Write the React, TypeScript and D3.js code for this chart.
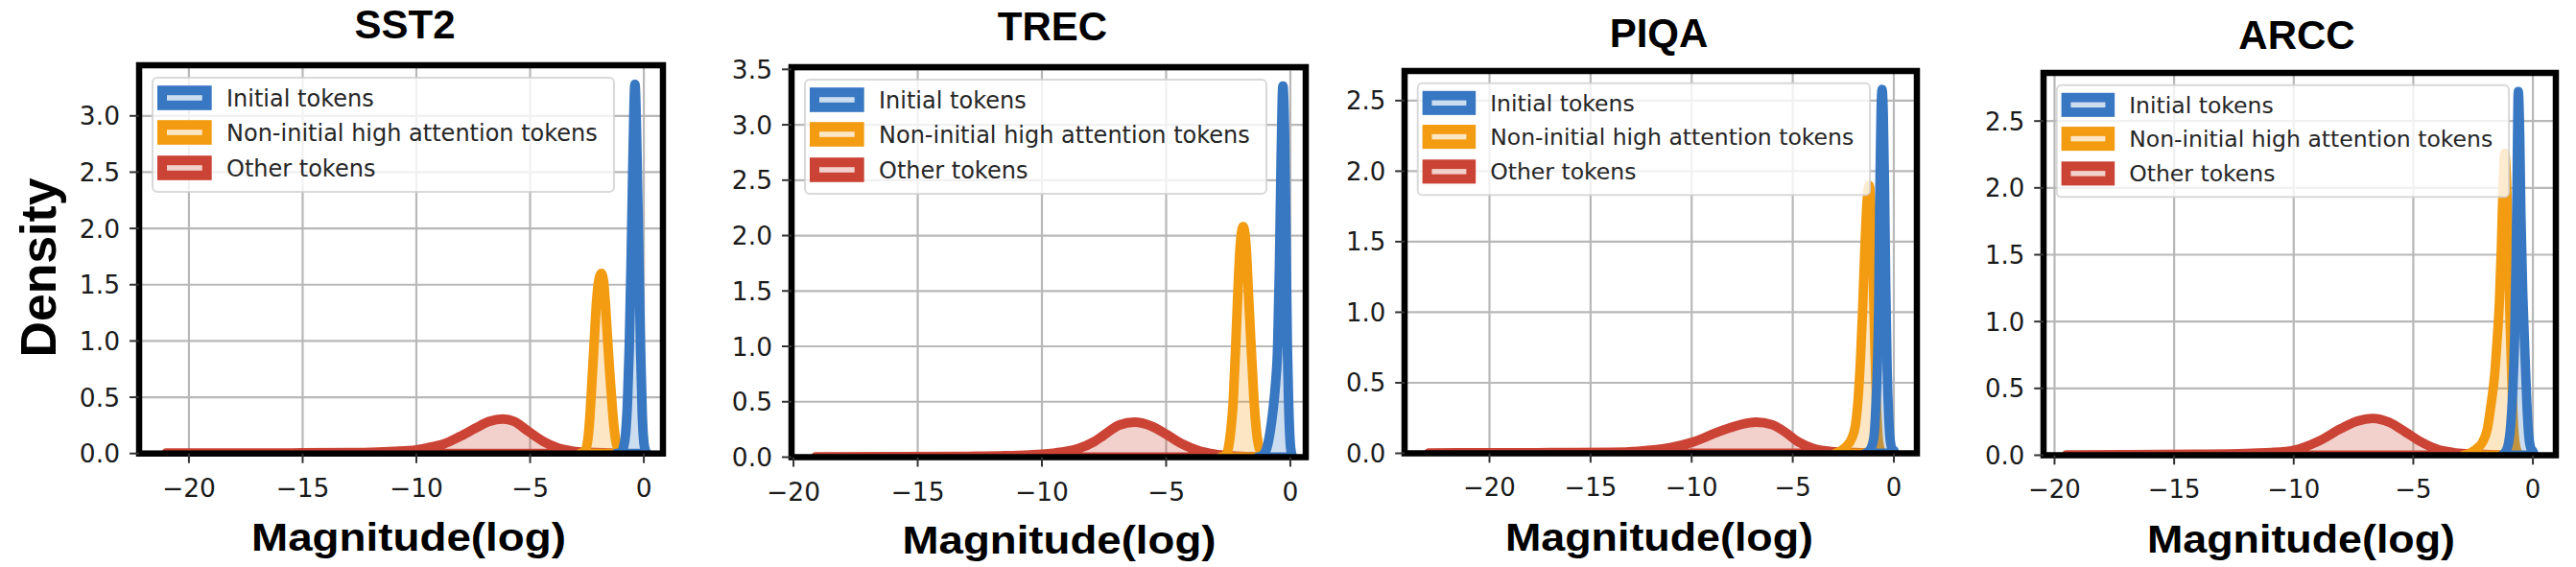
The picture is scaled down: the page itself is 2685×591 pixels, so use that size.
import React from 'react';
import * as d3 from 'd3';

type Pt = [number, number];

// ---------- data ----------
const panelTitles = ['SST2', 'TREC', 'PIQA', 'ARCC'];
const seriesNames = ['Initial tokens', 'Non-initial high attention tokens', 'Other tokens'];
const seriesColors = ['#3877c2', '#f39c12', '#cb4335'];
const xTickValues = [-20, -15, -10, -5, 0];
const yTicksSST2 = [0, 0.5, 1, 1.5, 2, 2.5, 3];
const yTicksTREC = [0, 0.5, 1, 1.5, 2, 2.5, 3, 3.5];
const yTicksPIQA = [0, 0.5, 1, 1.5, 2, 2.5];
const yTicksARCC = [0, 0.5, 1, 1.5, 2, 2.5];

const sst2Initial: Pt[] = [[-1.2, 0], [-1.0, 0.01], [-0.9, 0.05], [-0.8, 0.18], [-0.72, 0.45], [-0.64, 0.95], [-0.56, 1.7], [-0.48, 2.6], [-0.39, 3.28], [-0.3, 2.65], [-0.22, 1.75], [-0.14, 0.9], [-0.07, 0.35], [0.0, 0.1], [0.08, 0.02], [0.15, 0]];
const sst2NonInitial: Pt[] = [[-2.8, 0], [-2.6, 0.02], [-2.48, 0.1], [-2.4, 0.25], [-2.32, 0.5], [-2.25, 0.75], [-2.18, 1.0], [-2.08, 1.35], [-1.97, 1.55], [-1.87, 1.6], [-1.77, 1.53], [-1.68, 1.3], [-1.59, 1.0], [-1.5, 0.72], [-1.42, 0.5], [-1.32, 0.25], [-1.2, 0.08], [-1.05, 0.02], [-0.9, 0]];
const sst2Other: Pt[] = [[-21.0, 0.003], [-18, 0.004], [-15, 0.005], [-13, 0.008], [-12, 0.011], [-11, 0.018], [-10, 0.032], [-9.4, 0.055], [-8.8, 0.085], [-8.1, 0.15], [-7.4, 0.225], [-6.8, 0.285], [-6.2, 0.307], [-5.7, 0.285], [-5.1, 0.2], [-4.4, 0.105], [-3.8, 0.05], [-3.1, 0.02], [-2.4, 0.01], [-1.8, 0.005], [-1.2, 0.002], [-0.8, 0]];

const trecInitial: Pt[] = [[-1.3, 0], [-1.1, 0.02], [-0.95, 0.08], [-0.82, 0.22], [-0.7, 0.42], [-0.6, 0.65], [-0.51, 1.0], [-0.44, 1.7], [-0.37, 2.7], [-0.3, 3.35], [-0.23, 2.9], [-0.16, 1.7], [-0.12, 1.0], [-0.07, 0.5], [-0.02, 0.18], [0.05, 0.03], [0.12, 0]];
const trecNonInitial: Pt[] = [[-2.8, 0], [-2.6, 0.02], [-2.48, 0.1], [-2.38, 0.28], [-2.3, 0.5], [-2.25, 0.75], [-2.2, 1.0], [-2.12, 1.45], [-2.02, 1.9], [-1.9, 2.08], [-1.78, 1.9], [-1.68, 1.45], [-1.58, 1.0], [-1.52, 0.75], [-1.46, 0.5], [-1.37, 0.25], [-1.25, 0.08], [-1.1, 0.02], [-0.95, 0]];
const trecOther: Pt[] = [[-19.1, 0.003], [-16, 0.004], [-13, 0.007], [-11.5, 0.012], [-10.5, 0.02], [-10, 0.026], [-9.2, 0.045], [-8.56, 0.075], [-7.9, 0.14], [-7.53, 0.195], [-6.88, 0.29], [-6.27, 0.316], [-5.6, 0.281], [-4.95, 0.2], [-4.31, 0.114], [-3.67, 0.055], [-3.0, 0.025], [-2.3, 0.01], [-1.6, 0.004], [-1.0, 0]];

const piqaInitial: Pt[] = [[-1.4, 0], [-1.15, 0.03], [-1.0, 0.1], [-0.9, 0.3], [-0.82, 0.6], [-0.75, 1.05], [-0.69, 1.9], [-0.63, 2.45], [-0.58, 2.58], [-0.52, 2.4], [-0.46, 1.9], [-0.4, 1.2], [-0.33, 0.6], [-0.25, 0.25], [-0.17, 0.08], [-0.08, 0.03], [0.0, 0.02], [0.05, 0]];
const piqaNonInitial: Pt[] = [[-2.9, 0], [-2.6, 0.02], [-2.35, 0.05], [-2.1, 0.1], [-1.9, 0.2], [-1.75, 0.42], [-1.64, 0.7], [-1.55, 1.0], [-1.45, 1.4], [-1.33, 1.78], [-1.22, 1.9], [-1.12, 1.72], [-1.02, 1.25], [-0.94, 0.75], [-0.86, 0.35], [-0.78, 0.12], [-0.68, 0.03], [-0.55, 0]];
const piqaOther: Pt[] = [[-23.0, 0.003], [-20, 0.004], [-17, 0.005], [-14, 0.008], [-12.66, 0.015], [-11.08, 0.04], [-9.94, 0.08], [-8.71, 0.15], [-7.61, 0.203], [-6.82, 0.221], [-6.03, 0.203], [-5.4, 0.153], [-4.77, 0.085], [-3.98, 0.035], [-3.19, 0.015], [-2.4, 0.008], [-1.7, 0.004], [-1.0, 0]];

const arccInitial: Pt[] = [[-1.3, 0], [-1.1, 0.04], [-0.95, 0.18], [-0.85, 0.45], [-0.76, 0.9], [-0.7, 1.5], [-0.66, 2.1], [-0.61, 2.72], [-0.55, 2.4], [-0.5, 1.8], [-0.42, 1.2], [-0.33, 0.75], [-0.25, 0.38], [-0.17, 0.14], [-0.08, 0.05], [0.0, 0.03], [0.06, 0]];
const arccNonInitial: Pt[] = [[-2.9, 0], [-2.6, 0.02], [-2.35, 0.05], [-2.1, 0.1], [-1.9, 0.2], [-1.75, 0.38], [-1.6, 0.6], [-1.5, 0.85], [-1.4, 1.15], [-1.32, 1.55], [-1.25, 2.0], [-1.18, 2.26], [-1.1, 2.05], [-1.03, 1.6], [-0.96, 1.05], [-0.88, 0.55], [-0.8, 0.2], [-0.7, 0.05], [-0.55, 0]];
const arccOther: Pt[] = [[-19.5, 0.003], [-17, 0.004], [-14, 0.008], [-12, 0.014], [-11, 0.02], [-10, 0.038], [-8.96, 0.105], [-8.02, 0.2], [-7.35, 0.255], [-6.69, 0.276], [-6.02, 0.247], [-5.35, 0.176], [-4.68, 0.1], [-4.01, 0.045], [-3.21, 0.018], [-2.5, 0.009], [-1.8, 0.004], [-1.2, 0]];

const panelSeries: Pt[][][] = [
  [sst2Initial, sst2NonInitial, sst2Other],
  [trecInitial, trecNonInitial, trecOther],
  [piqaInitial, piqaNonInitial, piqaOther],
  [arccInitial, arccNonInitial, arccOther],
];
const panelYTicks = [yTicksSST2, yTicksTREC, yTicksPIQA, yTicksARCC];
const panelXDomains: Pt[] = [[-22.19, 0.84], [-20.08, 0.62], [-24.2, 1.14], [-20.46, 0.96]];
const panelYMax = [3.45, 3.52, 2.71, 2.86];

// ---------- layout ----------
const layout = [
  { left: 145, right: 691, top: 68, bottom: 472.7, s: 1, titleX: 422, titleY: 40, labX: 426, labY: 574, labW: 328 },
  { left: 825, right: 1361, top: 70, bottom: 476.5, s: 1, titleX: 1097, titleY: 42, labX: 1104, labY: 577, labW: 327 },
  { left: 1464, right: 1998, top: 74, bottom: 472.5, s: 0.98, titleX: 1729, titleY: 49, labX: 1729.5, labY: 574, labW: 321 },
  { left: 2130, right: 2664, top: 76, bottom: 474.5, s: 0.98, titleX: 2394, titleY: 51, labX: 2398.5, labY: 576, labW: 321 },
];

const fmtX = (v: number) => (v < 0 ? '\u2212' + Math.abs(v) : String(v));
const fmtY = d3.format('.1f');

function Panel({ idx }: { idx: number }) {
  const L = layout[idx];
  const s = L.s;
  const x = d3.scaleLinear().domain(panelXDomains[idx]).range([L.left, L.right]);
  const y = d3.scaleLinear().domain([0, panelYMax[idx]]).range([L.bottom, L.top]);
  const area = d3
    .area<Pt>()
    .x((d) => x(d[0]))
    .y0(y(0))
    .y1((d) => y(d[1]))
    .curve(d3.curveMonotoneX);
  const clipId = `clip${idx}`;
  const lw = 10 * s;
  const lx = L.left + 14 * s;
  const ly = L.top + 13 * s;
  const rowY = [21, 57, 94].map((v) => ly + v * s);
  const tickFont = 26.5 * s;
  const order = [2, 1, 0];
  return (
    <g>
      <defs>
        <clipPath id={clipId}>
          <rect x={L.left} y={L.top} width={L.right - L.left} height={L.bottom - L.top} />
        </clipPath>
      </defs>
      {/* grid */}
      <g stroke="#b8b8b8" strokeWidth={2.2}>
        {xTickValues.map((t) => (
          <line key={'gx' + t} x1={x(t)} x2={x(t)} y1={L.top} y2={L.bottom} />
        ))}
        {panelYTicks[idx].map((t) => (
          <line key={'gy' + t} x1={L.left} x2={L.right} y1={y(t)} y2={y(t)} />
        ))}
      </g>
      {/* densities */}
      <g clipPath={`url(#${clipId})`}>
        {order.map((k) => (
          <path
            key={'s' + k}
            d={area(panelSeries[idx][k]) || ''}
            fill={seriesColors[k]}
            fillOpacity={0.25}
            stroke={seriesColors[k]}
            strokeWidth={lw}
            strokeLinejoin="round"
          />
        ))}
      </g>
      {/* legend */}
      <g>
        <rect
          x={lx}
          y={ly}
          width={481 * s}
          height={119 * s}
          rx={5 * s}
          fill="#ffffff"
          fillOpacity={0.8}
          stroke="#d0d0d0"
          strokeOpacity={0.8}
          strokeWidth={2}
        />
        {seriesNames.map((name, k) => (
          <g key={'lg' + k}>
            <rect x={lx + 10 * s} y={rowY[k] - 7.8 * s} width={46.7 * s} height={15.6 * s} fill="#ffffff" />
            <rect
              x={lx + 10 * s}
              y={rowY[k] - 7.8 * s}
              width={46.7 * s}
              height={15.6 * s}
              fill={seriesColors[k]}
              fillOpacity={0.25}
              stroke={seriesColors[k]}
              strokeWidth={lw}
            />
            <text
              x={lx + 77 * s}
              y={rowY[k] + 8.6 * s}
              fontFamily="DejaVu Sans"
              fontSize={24 * s}
              fill="#262626"
            >
              {name}
            </text>
          </g>
        ))}
      </g>
      {/* frame */}
      <rect
        x={L.left}
        y={L.top}
        width={L.right - L.left}
        height={L.bottom - L.top}
        fill="none"
        stroke="#000"
        strokeWidth={6.5}
      />
      {/* ticks */}
      <g stroke="#333" strokeWidth={2}>
        {xTickValues.map((t) => (
          <line key={'tx' + t} x1={x(t)} x2={x(t)} y1={L.bottom} y2={L.bottom + 10 * s} />
        ))}
        {panelYTicks[idx].map((t) => (
          <line key={'ty' + t} x1={L.left - 10 * s} x2={L.left} y1={y(t)} y2={y(t)} />
        ))}
      </g>
      <g fontFamily="DejaVu Sans" fontSize={tickFont} fill="#1a1a1a">
        {xTickValues.map((t) => (
          <text key={'lx' + t} x={x(t)} y={L.bottom + 45.5 * s} textAnchor="middle">
            {fmtX(t)}
          </text>
        ))}
        {panelYTicks[idx].map((t) => (
          <text key={'ly' + t} x={L.left - 20 * s} y={y(t) + 9.6 * s} textAnchor="end">
            {fmtY(t)}
          </text>
        ))}
      </g>
      {/* title */}
      <text
        x={L.titleX}
        y={L.titleY}
        textAnchor="middle"
        fontFamily="Liberation Sans"
        fontWeight="bold"
        fontSize={42}
        fill="#000"
      >
        {panelTitles[idx]}
      </text>
      {/* x label */}
      <text
        x={L.labX}
        y={L.labY}
        textAnchor="middle"
        fontFamily="Liberation Sans"
        fontWeight="bold"
        fontSize={40}
        fill="#000"
        textLength={L.labW}
        lengthAdjust="spacingAndGlyphs"
      >
        Magnitude(log)
      </text>
    </g>
  );
}

export default function App() {
  return (
    <svg
      width={2685}
      height={591}
      viewBox="0 0 2685 591"
      style={{ position: 'absolute', left: 0, top: 0, background: '#fff' }}
    >
      <rect x={0} y={0} width={2685} height={591} fill="#fff" />
      {panelTitles.map((_, i) => (
        <Panel key={i} idx={i} />
      ))}
      <text
        transform="translate(57.5,279) rotate(-90)"
        textAnchor="middle"
        fontFamily="Liberation Sans"
        fontWeight="bold"
        fontSize={52}
        fill="#000"
        textLength={187}
        lengthAdjust="spacingAndGlyphs"
      >
        Density
      </text>
    </svg>
  );
}
